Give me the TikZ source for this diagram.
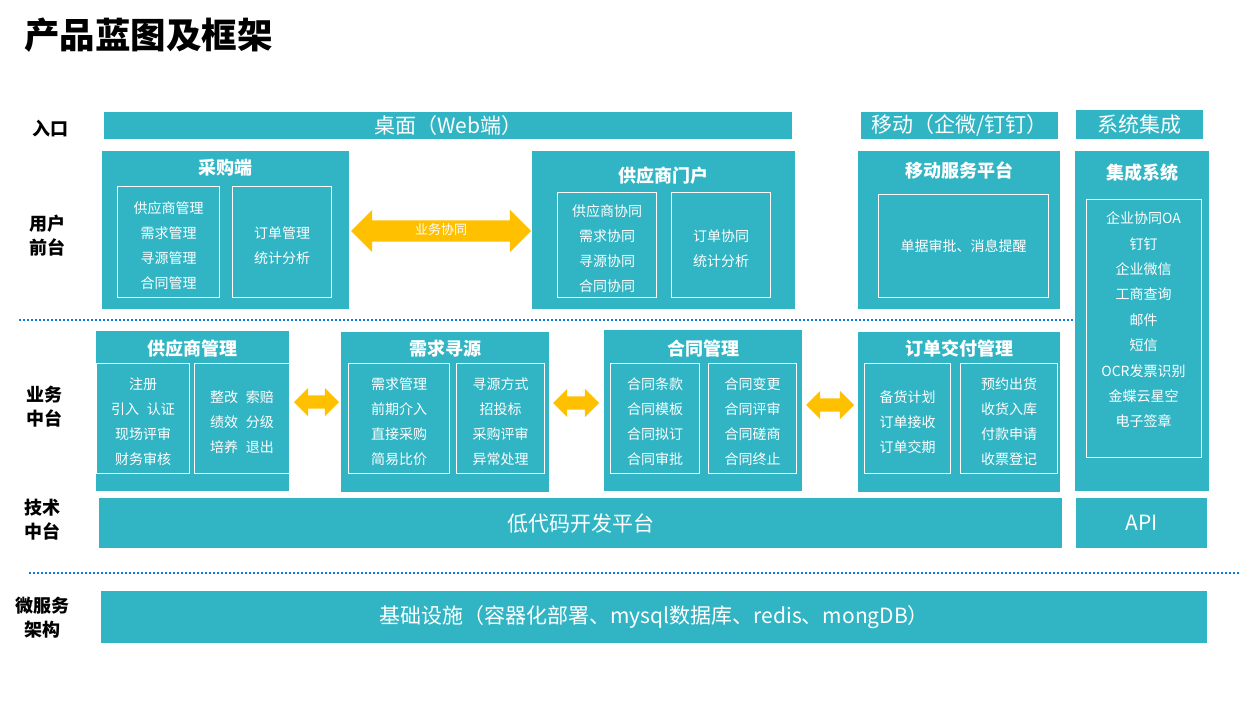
\documentclass[tikz,border=0pt]{standalone}
\usepackage{fontspec}
\setmainfont{Noto Sans CJK SC}
\usepackage{tikz}
\usetikzlibrary{positioning,shapes.arrows}
\definecolor{tealbox}{RGB}{49,181,196}
\definecolor{linkyellow}{RGB}{255,192,0}
\definecolor{dotblue}{RGB}{10,125,220}

\begin{document}
\begin{tikzpicture}[x=1pt,y=-1pt,
  bar/.style={fill=tealbox,text=white,inner sep=0pt,anchor=north west,font=\fontsize{21}{24}\selectfont},
  panel/.style={fill=tealbox,inner sep=0pt,anchor=north west},
  paneltitle/.style={text=white,inner sep=0pt,font=\bfseries\fontsize{18}{22}\selectfont},
  itembox/.style={draw=white,line width=1pt,inner sep=0pt,anchor=north west},
  itemtext/.style={text=white,inner sep=0pt,align=center,font=\fontsize{14}{25}\selectfont},
  rowlabel/.style={align=center,inner sep=0pt,font=\bfseries\fontsize{18}{24}\selectfont},
  sepline/.style={draw=dotblue,line width=2pt,dash pattern=on 2pt off 2pt},
  linkarrow/.style={double arrow,fill=linkyellow,double arrow tip angle=90,inner xsep=0pt,text=white}]
\useasboundingbox (0,0) rectangle (1258,707);

\node[anchor=west,inner sep=0pt,font=\bfseries\fontsize{35.5}{38}\selectfont] (title) at (24,35) {产品蓝图及框架};

%Row labels
\node[rowlabel] (lblentry) at (50,129) {入口};
\node[rowlabel] (lblfront) at (47,236) {用户\\前台};
\node[rowlabel] (lblbiz) at (45,407) {业务\\中台};
\node[rowlabel] (lbltech) at (42,520) {技术\\中台};
\node[rowlabel] (lblms) at (43,618) {微服务\\架构};

%Entry row
\node[bar,minimum width=688pt,minimum height=27pt] (web) at (104,112) {桌面（Web端）};
\node[bar,minimum width=197pt,minimum height=27pt] (mobile) at (861,112) {移动（企微/钉钉）};
\node[bar,minimum width=127pt,minimum height=29pt] (sysint) at (1076,110) {系统集成};

%User front
\node[panel,minimum width=247pt,minimum height=158pt] (buyer) at (102,151) {};
\node[paneltitle] (buyertitle) at ([yshift=-17pt]buyer.north) {采购端};
\node[itembox,minimum width=102pt,minimum height=111pt] (buyerl) at (117,186) {};
\node[itembox,minimum width=99pt,minimum height=111pt] (buyerr) at (232,186) {};
\node[itemtext] (buyerltext) at ([yshift=-3.5pt]buyerl.center) {供应商管理\\需求管理\\寻源管理\\合同管理};
\node[itemtext] (buyerrtext) at ([yshift=-3.5pt]buyerr.center) {订单管理\\统计分析};

\node[panel,minimum width=263pt,minimum height=158pt] (portal) at (532,151) {};
\node[paneltitle] (portaltitle) at ([yshift=-25pt]portal.north) {供应商门户};
\node[itembox,minimum width=99pt,minimum height=105pt] (portall) at (557,192) {};
\node[itembox,minimum width=99pt,minimum height=105pt] (portalr) at (671,192) {};
\node[itemtext] (portalltext) at ([yshift=-3.5pt]portall.center) {供应商协同\\需求协同\\寻源协同\\合同协同};
\node[itemtext] (portalrtext) at ([yshift=-3.5pt]portalr.center) {订单协同\\统计分析};

\node[linkarrow,minimum height=180pt,double arrow head extend=10.5pt,text height=9pt,text depth=2pt,inner ysep=5pt,
  font=\fontsize{13}{15}\selectfont] (cowork) at (441,231) {业务协同};

\node[panel,minimum width=202pt,minimum height=158pt] (mplat) at (858,151) {};
\node[paneltitle] (mplattitle) at ([yshift=-19pt]mplat.north) {移动服务平台};
\node[itembox,minimum width=170pt,minimum height=103pt] (mplatin) at (878,194) {};
\node[itemtext] (mplattext) at (mplatin.center) {单据审批、消息提醒};

\node[panel,minimum width=134pt,minimum height=340pt] (integ) at (1075,151) {};
\node[paneltitle] (integtitle) at ([yshift=-22pt]integ.north) {集成系统};
\node[itembox,minimum width=115pt,minimum height=258pt] (integin) at (1086,199) {};
\node[itemtext,font=\fontsize{14}{25.4}\selectfont] (integlist) at (1143.5,320) {企业协同OA\\钉钉\\企业微信\\工商查询\\邮件\\短信\\OCR发票识别\\金蝶云星空\\电子签章};

\draw[sepline] (19,320) -- (1073,320);

%Business middle
\node[panel,minimum width=193pt,minimum height=160pt] (supm) at (96,331) {};
\node[paneltitle] (supmtitle) at ([yshift=-18pt]supm.north) {供应商管理};
\node[itembox,minimum width=93pt,minimum height=110pt] (supml) at (96,363) {};
\node[itembox,minimum width=95pt,minimum height=110pt] (supmr) at (194,363) {};
\node[itemtext] (supmltext) at ([yshift=-3.5pt]supml.center) {注册\\引入\hspace{8pt}认证\\现场评审\\财务审核};
\node[itemtext] (supmrtext) at ([yshift=-3.5pt]supmr.center) {整改\hspace{8pt}索赔\\绩效\hspace{8pt}分级\\培养\hspace{8pt}退出};

\node[panel,minimum width=208pt,minimum height=160pt] (demand) at (341,332) {};
\node[paneltitle] (demandtitle) at ([yshift=-17pt]demand.north) {需求寻源};
\node[itembox,minimum width=101pt,minimum height=110pt] (demandl) at (348,363) {};
\node[itembox,minimum width=88pt,minimum height=110pt] (demandr) at (456,363) {};
\node[itemtext] (demandltext) at ([yshift=-3.5pt]demandl.center) {需求管理\\前期介入\\直接采购\\简易比价};
\node[itemtext] (demandrtext) at ([yshift=-3.5pt]demandr.center) {寻源方式\\招投标\\采购评审\\异常处理};

\node[panel,minimum width=198pt,minimum height=161pt] (contract) at (604,330) {};
\node[paneltitle] (contracttitle) at ([yshift=-19pt]contract.north) {合同管理};
\node[itembox,minimum width=89pt,minimum height=110pt] (contractl) at (610,363) {};
\node[itembox,minimum width=88pt,minimum height=110pt] (contractr) at (708,363) {};
\node[itemtext] (contractltext) at ([yshift=-3.5pt]contractl.center) {合同条款\\合同模板\\合同拟订\\合同审批};
\node[itemtext] (contractrtext) at ([yshift=-3.5pt]contractr.center) {合同变更\\合同评审\\合同磋商\\合同终止};

\node[panel,minimum width=202pt,minimum height=160pt] (order) at (858,332) {};
\node[paneltitle] (ordertitle) at ([yshift=-17pt]order.north) {订单交付管理};
\node[itembox,minimum width=86pt,minimum height=110pt] (orderl) at (864,363) {};
\node[itembox,minimum width=97pt,minimum height=110pt] (orderr) at (960,363) {};
\node[itemtext] (orderltext) at ([yshift=-3.5pt]orderl.center) {备货计划\\订单接收\\订单交期};
\node[itemtext] (orderrtext) at ([yshift=-3.5pt]orderr.center) {预约出货\\收货入库\\付款申请\\收票登记};

\node[linkarrow,minimum height=45pt,double arrow head extend=7.5pt,inner ysep=6.5pt] (linka) at (316.5,402) {};
\node[linkarrow,minimum height=46pt,double arrow head extend=7.5pt,inner ysep=6.5pt] (linkb) at (576,403) {};
\node[linkarrow,minimum height=48pt,double arrow head extend=7.5pt,inner ysep=6.5pt] (linkc) at (830,405) {};

%Tech middle
\node[bar,minimum width=963pt,minimum height=50pt] (lowcode) at (99,498) {低代码开发平台};
\node[bar,minimum width=131pt,minimum height=50pt] (api) at (1076,498) {API};

\draw[sepline] (29,573) -- (1239,573);

%Microservice
\node[bar,minimum width=1106pt,minimum height=52pt] (infra) at (101,591) {基础设施（容器化部署、mysql数据库、redis、mongDB）};

\end{tikzpicture}
\end{document}
